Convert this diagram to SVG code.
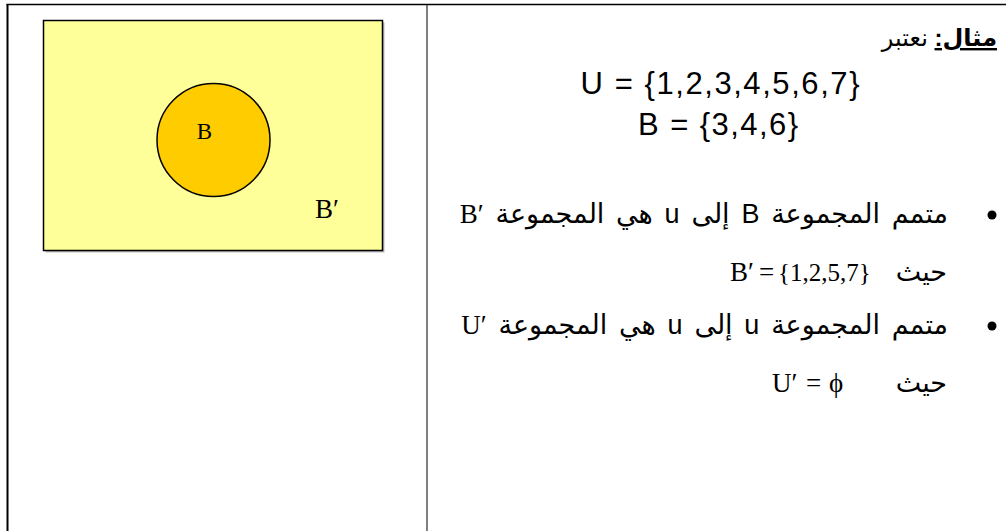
<svg xmlns="http://www.w3.org/2000/svg" width="1006" height="531" viewBox="0 0 1006 531">
<style>
.ser{font-family:"Liberation Serif","DejaVu Serif",serif;fill:#000}
.san{font-family:"Liberation Sans","DejaVu Sans",sans-serif;fill:#000}
.ar{font-family:"Liberation Serif","DejaVu Sans","Noto Sans",serif;font-size:27px;word-spacing:5px;fill:#000}
.m{font-family:"Liberation Serif","DejaVu Serif",serif;font-size:27px;fill:#000}
.line{stroke:#000;fill:none}
</style>
<rect width="1006" height="531" fill="#fff"/>
<g id="table">
<line class="line" x1="6.5" y1="4.5" x2="1006" y2="4.5" stroke-width="1.5"/>
<line class="line" x1="7.5" y1="4" x2="7.5" y2="531" stroke-width="2"/>
<line class="line" x1="427" y1="4" x2="427" y2="531" stroke-width="1"/>
</g>
<g id="venn">
<rect x="45.5" y="22.5" width="339" height="230" fill="#bbb"/>
<rect x="43.5" y="20.5" width="339" height="230" fill="#FFFF99" stroke="#000" stroke-width="1.5"/>
<circle cx="213.5" cy="140" r="56.5" fill="#FFCC00" stroke="#000" stroke-width="1.5"/>
<text class="ser" x="204.5" y="138.5" font-size="23" text-anchor="middle">B</text>
<text class="ser" x="315" y="217.5" font-size="27">B′</text>
</g>
<g id="example">
<text x="997" y="46" direction="rtl" style="font-size:24px;font-family:'Liberation Sans','DejaVu Sans',sans-serif;fill:#000"><tspan font-weight="bold" text-decoration="underline">مثال:</tspan> نعتبر</text>
<text class="san" x="720" y="93.5" font-size="31" text-anchor="middle" textLength="279" lengthAdjust="spacing">U = {1,2,3,4,5,6,7}</text>
<text class="san" x="718" y="135" font-size="31" text-anchor="middle" textLength="160" lengthAdjust="spacing">B = {3,4,6}</text>
</g>
<g id="bullets">
<circle cx="992" cy="215" r="4.5" fill="#000"/>
<circle cx="992" cy="326" r="4.5" fill="#000"/>
<text class="ar" x="948" y="223" direction="rtl">متمم المجموعة <tspan class="san">B</tspan> إلى <tspan class="san">u</tspan> هي المجموعة B′&#x200E;</text>
<text class="ar" x="947" y="281" direction="rtl">حيث</text>
<text class="m" x="730" y="281">B′</text>
<text class="m" x="759" y="281">=</text>
<text class="m" x="778" y="281" font-size="25" style="font-size:25px">{1,2,5,7}</text>
<text class="ar" x="948" y="334" direction="rtl">متمم المجموعة <tspan class="san">u</tspan> إلى <tspan class="san">u</tspan> هي المجموعة U′&#x200E;</text>
<text class="ar" x="947" y="392" direction="rtl">حيث</text>
<text class="m" x="772" y="392">U′</text>
<text class="m" x="806" y="392">=</text>
<text class="m" x="829" y="392">ϕ</text>
</g>
</svg>
